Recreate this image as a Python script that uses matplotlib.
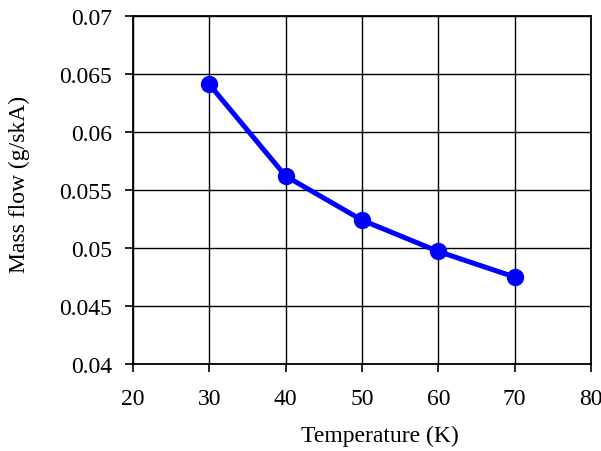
import matplotlib.pyplot as plt

# data
temperature = [30, 40, 50, 60, 70]
mass_flow = [0.0641, 0.0562, 0.0524, 0.0497, 0.0475]

x_ticks = [20, 30, 40, 50, 60, 70, 80]
y_ticks = [0.04, 0.045, 0.05, 0.055, 0.06, 0.065, 0.07]
y_tick_labels = ["0.04", "0.045", "0.05", "0.055", "0.06", "0.065", "0.07"]

plt.rcParams["font.family"] = ["Liberation Serif", "DejaVu Serif"]

fig = plt.figure(figsize=(6.01, 4.52), dpi=100)
ax = fig.add_axes([0.2213, 0.1925, 0.7621, 0.7699])

ax.plot(temperature, mass_flow, color="#0000ff", linewidth=3.6,
        marker="o", markersize=11.5, zorder=3)

ax.set_xlim(20, 80)
ax.set_ylim(0.04, 0.07)
ax.set_xticks(x_ticks)
ax.set_yticks(y_ticks)
ax.set_yticklabels(y_tick_labels)
ax.tick_params(labelsize=17, length=6, width=1.2, direction="out")
ax.tick_params(axis="x", pad=11)
ax.tick_params(axis="y", pad=9)

ax.grid(True, color="black", linewidth=1.0)
for spine in ax.spines.values():
    spine.set_linewidth(1.3)

ax.set_xlabel("Temperature (K)", fontsize=17, va="center")
ax.xaxis.set_label_coords(0.539, -0.205)
ax.set_ylabel("Mass flow (g/skA)", fontsize=17, va="center")
ax.yaxis.set_label_coords(-0.247, 0.52)

plt.savefig("out.png", dpi=100)
